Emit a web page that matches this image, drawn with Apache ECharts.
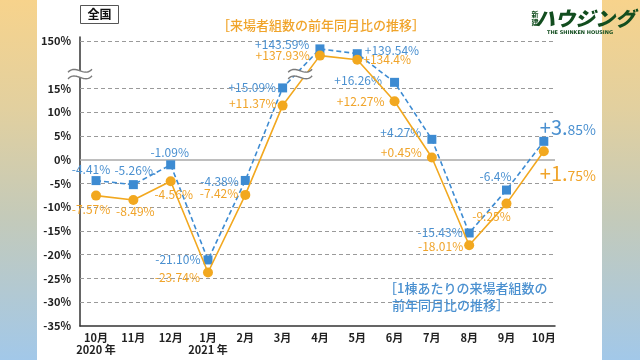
<!DOCTYPE html>
<html><head><meta charset="utf-8">
<script src="https://cdn.jsdelivr.net/npm/echarts@6.0.0/dist/echarts.min.js"></script>
<style>
html,body{margin:0;padding:0;}
#c{width:640px;height:360px;
background:linear-gradient(to right, rgba(255,255,255,0) 37px, #fff 37px, #fff 602px, rgba(255,255,255,0) 602px),
linear-gradient(to bottom, #f7d38c 0%, #e2d09f 30%, #c4cab9 60%, #a2c8e9 100%);}
</style></head><body><div id="c"></div>
<script>
// ---- data ----
const months = ['10月','11月','12月','1月','2月','3月','4月','5月','6月','7月','8月','9月','10月'];
const yearNotes = ['2020 年','','','2021 年','','','','','','','','',''];
const blueValues = [-4.41,-5.26,-1.09,-21.10,-4.38,15.09,143.59,139.54,16.26,4.27,-15.43,-6.4,3.85];
const orangeValues = [-7.57,-8.49,-4.56,-23.74,-7.42,11.37,137.93,134.4,12.27,0.45,-18.01,-9.25,1.75];
const blueLabels = ['-4.41%','-5.26%.','-1.09%','-21.10%','-4.38%','+15.09%','+143.59%','+139.54%','+16.26%','+4.27%','-15.43%','-6.4%','+3.85%'];
const orangeLabels = ['-7.57%','-8.49%','-4.56%','-23.74%','-7.42%','+11.37%','+137.93%','+134.4%','+12.27%','+0.45%','-18.01%','-9.25%','+1.75%'];
const yTicks = [-35,-30,-25,-20,-15,-10,-5,0,5,10,15,150];

// ---- broken axis mapping (upper segment compressed) ----
const BREAK_AT = 20, TOP_TICK = 150, TOP_POS = 24.9, TOP_SLOPE = 0.25;
function toAxis(v){ return v <= BREAK_AT ? v : TOP_POS + (v - TOP_TICK) * TOP_SLOPE; }
function fromAxis(d){ return d <= BREAK_AT ? d : TOP_TICK + (d - TOP_POS) / TOP_SLOPE; }

// label placements (style): [mode, dx, dy]
const bluePlace = [['c',-5,-11],['c',2,-14],['c',-1,-12],['l',-3,0],['l',-2,1],['l',-2,0],['l',-6,-4],['r',3,-3],['l',-8,-2],['l',-6,-7],['l',-2,-1],['c',-11,-14],['big',-4,-15]];
const orangePlace = [['c',-5,14],['c',2,11],['c',3,13],['l',-3,5],['l',-2,-1],['l',-1,-2],['l',-5,0],['r',1,0],['l',-5,0],['l',-5,-5],['l',-1,1],['c',-15,13],['big',-4,21]];

const BLUE = '#3d8bd2', ORANGE = '#f2a81f';
const BLUE_T = '#4a90d0', ORANGE_T = '#f0a42a';
const FONT = '"Noto Sans CJK JP", "Noto Sans", sans-serif';

function labelFor(place, text, color){
  const [m, dx, dy] = place;
  const base = {show:true, color, fontFamily:FONT, fontSize:12, distance:0, offset:[dx,dy]};
  if (m === 'c') return Object.assign(base, {position:'inside'});
  if (m === 'l') return Object.assign(base, {position:'left'});
  if (m === 'r') return Object.assign(base, {position:'right'});
  const k = text.indexOf('.') + 1;
  return Object.assign(base, {
    position:'inside', align:'left',
    formatter: '{b|' + text.slice(0,k) + '}{s|' + text.slice(k) + '}',
    rich: {
      b:{fontSize:20, color, fontFamily:FONT, verticalAlign:'bottom', lineHeight:22},
      s:{fontSize:14, color, fontFamily:FONT, verticalAlign:'bottom', lineHeight:20, padding:[0,0,1,0]}
    }
  });
}

function buildData(values, labels, places, color){
  return values.map((v,i) => ({
    value:[i, toAxis(v)],
    label: Object.assign({formatter: labels[i]}, labelFor(places[i], labels[i], color))
  }));
}

const gridLines = yTicks.filter(t => t !== 0 && t !== -35).map(t => ({yAxis: toAxis(t)}));
gridLines.push({yAxis: 0, lineStyle:{type:'solid', color:'#a8a8a8', width:1.6}});

const chart = echarts.init(document.getElementById('c'), null, {renderer:'canvas'});
const option = {
  animation:false,
  backgroundColor:'transparent',
  grid:{left:80, right:85, top:37, bottom:34, containLabel:false},
  xAxis:{
    type:'value', min:-0.43, max:12.3,
    axisLine:{show:true, onZero:false, lineStyle:{color:'#333', width:1.5}},
    axisTick:{show:false}, splitLine:{show:false},
    axisLabel:{
      customValues: months.map((_,i)=>i),
      margin:6, color:'#222', fontFamily:FONT, fontSize:11, fontWeight:'bold', lineHeight:12,
      formatter: v => months[v] + (yearNotes[v] ? '\n' + yearNotes[v] : '')
    }
  },
  yAxis:{
    type:'value', min:-35, max:25.8,
    axisLine:{show:true, onZero:false, lineStyle:{color:'#333', width:1.5}},
    axisTick:{show:false}, splitLine:{show:false},
    axisLabel:{
      customValues: yTicks.map(toAxis),
      margin:9, color:'#222', fontFamily:FONT, fontSize:11, fontWeight:'bold',
      formatter: v => Math.round(fromAxis(v)) + '%'
    }
  },
  series:[
    {
      type:'line', name:'blue', z:3,
      symbol:'rect', symbolSize:9,
      itemStyle:{color:BLUE},
      lineStyle:{color:BLUE, width:1.6, type:[5,3]},
      data: buildData(blueValues, blueLabels, bluePlace, BLUE_T),
      markLine:{
        silent:true, symbol:['none','none'], label:{show:false},
        lineStyle:{type:[4,3], color:'#9a9a9a', width:1},
        emphasis:{disabled:true},
        data: gridLines, z:1
      }
    },
    {
      type:'line', name:'orange', z:4,
      symbol:'circle', symbolSize:10,
      itemStyle:{color:ORANGE},
      lineStyle:{color:ORANGE, width:1.6},
      data: buildData(orangeValues, orangeLabels, orangePlace, ORANGE_T)
    }
  ]
};
chart.setOption(option);

function breakMark(cx, cy, z){
  const w = 12, d = 3.3;
  const pt = (t, off) => {
    const p0=[-w,1.5], p1=[-w/3,-7], p2=[w/3,7], p3=[w,-1.5];
    const u = 1-t;
    const x = u*u*u*p0[0] + 3*u*u*t*p1[0] + 3*u*t*t*p2[0] + t*t*t*p3[0];
    const y = u*u*u*p0[1] + 3*u*u*t*p1[1] + 3*u*t*t*p2[1] + t*t*t*p3[1];
    return [cx + x, cy + y + off];
  };
  const top = [], bot = [];
  for (let i=0;i<=20;i++){ top.push(pt(i/20, -d)); bot.push(pt(i/20, d)); }
  return [
    {type:'polygon', z:z, shape:{points: top.concat(bot.slice().reverse())}, style:{fill:'#fff'}},
    {type:'polyline', z:z+1, shape:{points: top}, style:{stroke:'#7a7a7a', lineWidth:1.4, fill:null}},
    {type:'polyline', z:z+1, shape:{points: bot}, style:{stroke:'#7a7a7a', lineWidth:1.4, fill:null}}
  ];
}

const axisBrk = chart.convertToPixel({gridIndex:0}, [-0.43, 18]);
const lineBrk = chart.convertToPixel({gridIndex:0}, [5.47, 18]);

chart.setOption({
  graphic: [
    ...breakMark(axisBrk[0], axisBrk[1], 20),
    ...breakMark(lineBrk[0], lineBrk[1], 20),
    {type:'rect', z:20, shape:{x:80.5, y:5.5, width:38, height:18}, style:{fill:'#fff', stroke:'#555', lineWidth:1}},
    {type:'text', z:21, style:{text:'全国', x:99.5, y:14.5, align:'center', verticalAlign:'middle', font:'bold 12px "Noto Sans CJK JP"', fill:'#111'}},
    {type:'text', z:21, style:{text:'［来場者組数の前年同月比の推移］', x:321, y:25, align:'center', verticalAlign:'middle', font:'500 13px "Noto Sans CJK JP"', fill:ORANGE_T}},
    {type:'text', z:21, style:{text:'［1棟あたりの来場者組数の', x:384, y:288, align:'left', verticalAlign:'middle', font:'500 13px "Noto Sans CJK JP"', fill:BLUE_T}},
    {type:'text', z:21, style:{text:'前年同月比の推移］', x:392, y:305, align:'left', verticalAlign:'middle', font:'500 13px "Noto Sans CJK JP"', fill:BLUE_T}},
    {type:'text', z:21, style:{text:'新\n建', x:535, y:18, align:'center', verticalAlign:'middle', font:'bold 7px "Noto Sans CJK JP"', lineHeight:8, fill:'#124d1f'}},
    {type:'text', z:21, style:{text:'ハウジング', x:585, y:18, align:'center', verticalAlign:'middle', font:'italic 900 20px "Noto Sans CJK JP"', fill:'#124d1f'}},
    {type:'text', z:21, style:{text:'THE SHINKEN HOUSING', x:580, y:33, align:'center', verticalAlign:'middle', font:'bold 5px "DejaVu Sans"', fill:'#124d1f'}}
  ]
});
</script></body></html>
